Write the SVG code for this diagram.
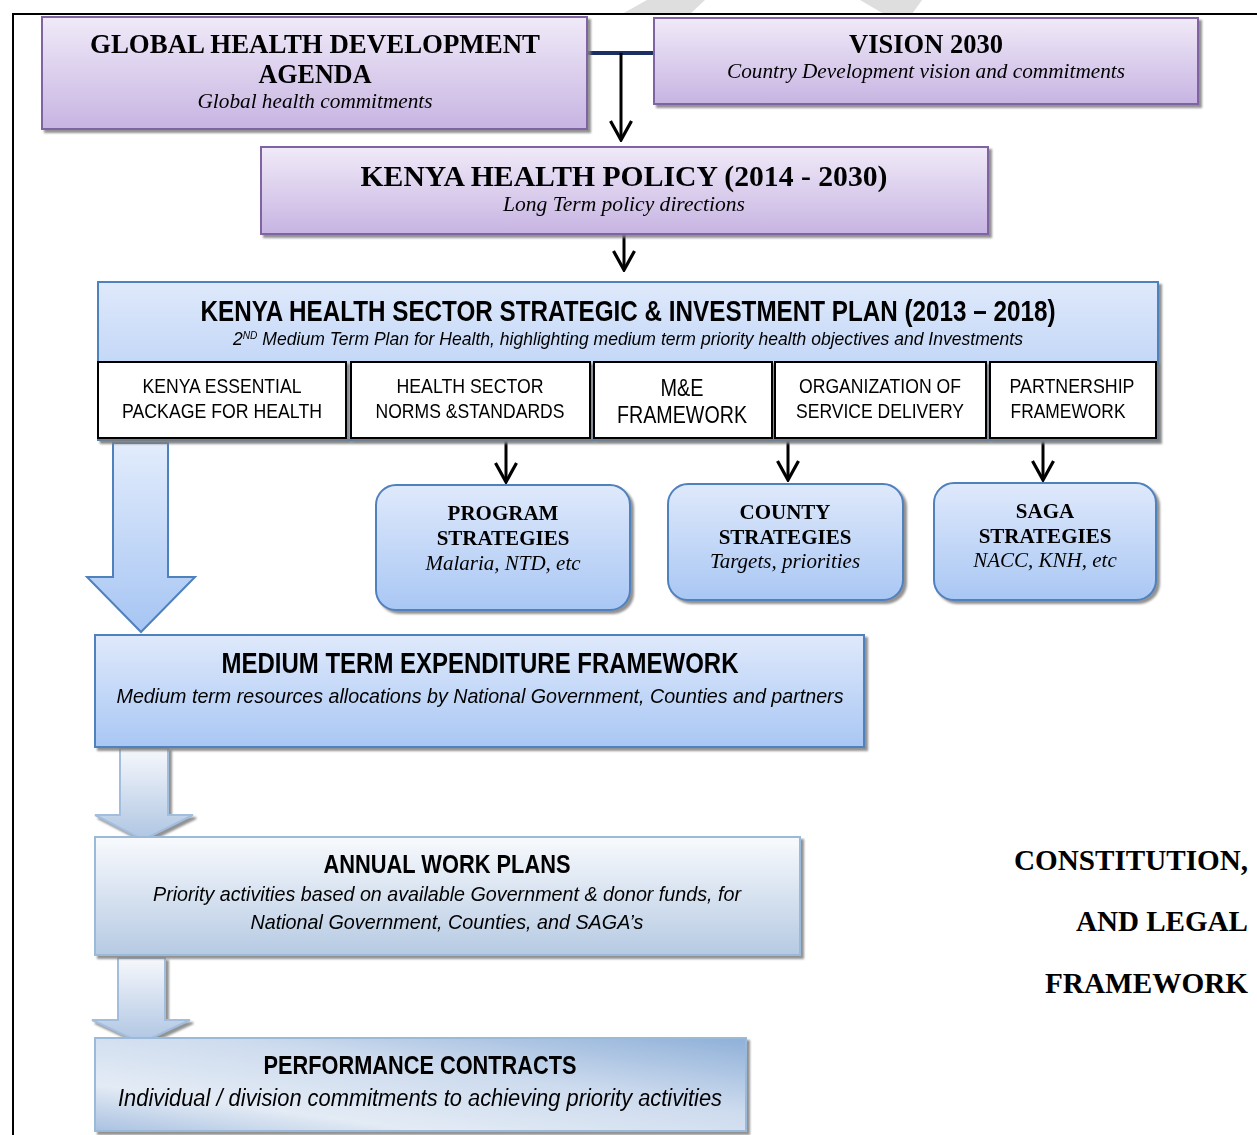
<svg xmlns="http://www.w3.org/2000/svg" width="1257" height="1135" viewBox="0 0 1257 1135">
<defs>
<linearGradient id="gPurple" x1="0" y1="0" x2="0" y2="1"><stop offset="0" stop-color="#f0eaf8"/><stop offset="1" stop-color="#c7b4e2"/></linearGradient>
<linearGradient id="gBlue" x1="0" y1="0" x2="0" y2="1"><stop offset="0" stop-color="#dfe9fb"/><stop offset="1" stop-color="#a9c7f4"/></linearGradient>
<linearGradient id="gBlueArrow" x1="0" y1="0" x2="0" y2="1"><stop offset="0" stop-color="#e2ecfc"/><stop offset="1" stop-color="#a6c5f3"/></linearGradient>
<linearGradient id="gPale" x1="0" y1="0" x2="0" y2="1"><stop offset="0" stop-color="#f8fafd"/><stop offset="1" stop-color="#b6cae3"/></linearGradient>
<linearGradient id="gPaleArrow" x1="0" y1="0" x2="0" y2="1"><stop offset="0" stop-color="#f6f8fc"/><stop offset="1" stop-color="#aec5e2"/></linearGradient>
<linearGradient id="gPC" x1="0" y1="1" x2="1" y2="0"><stop offset="0" stop-color="#a9c1e0"/><stop offset="0.25" stop-color="#e3ebf5"/><stop offset="0.6" stop-color="#cddbee"/><stop offset="1" stop-color="#8fb0d8"/></linearGradient>
<filter id="sh" x="-5%" y="-5%" width="115%" height="125%"><feDropShadow dx="3" dy="3" stdDeviation="1" flood-color="#7f7f7f" flood-opacity="0.85"/></filter>
<marker id="ah" viewBox="0 0 22 24" refX="20" refY="12" markerWidth="22" markerHeight="24" markerUnits="userSpaceOnUse" orient="auto"><path d="M1,1.5 L20,12 L1,22.5" fill="none" stroke="#000" stroke-width="3.2"/></marker>
<style>
.serifB{font-family:"Liberation Serif","Times New Roman",serif;font-weight:bold;fill:#000;text-anchor:middle}
.serifI{font-family:"Liberation Serif","Times New Roman",serif;font-style:italic;fill:#000;text-anchor:middle}
.narB{font-family:"Liberation Sans Narrow","Arial Narrow","Liberation Sans",sans-serif;font-weight:bold;fill:#000;text-anchor:middle}
.narI{font-family:"Liberation Sans Narrow","Arial Narrow","Liberation Sans",sans-serif;font-style:italic;fill:#000;text-anchor:middle}
.nar{font-family:"Liberation Sans Narrow","Arial Narrow","Liberation Sans",sans-serif;fill:#000;text-anchor:middle}
.end{text-anchor:end}
.purple{fill:url(#gPurple);stroke:#8064a2;stroke-width:2}
.blue{fill:url(#gBlue);stroke:#4f81bd;stroke-width:2}
.sub{fill:#fff;stroke:#000;stroke-width:2}
.pale{fill:url(#gPale);stroke:#9bbad9;stroke-width:2}
.conn{fill:none;stroke:#000;stroke-width:3}
</style>
</defs>
<rect width="1257" height="1135" fill="#fff"/>
<g id="watermark" fill="#dedede">
<polygon points="647,0 705,0 690,14 622,14"/>
<polygon points="860,0 922,0 912,14 884,14"/>
</g>
<path d="M13,1135 V14 H1257" fill="none" stroke="#000" stroke-width="2"/>

<g id="connectors">
<path d="M587,53 H654" fill="none" stroke="#1b2f63" stroke-width="4"/>
<path class="conn" d="M621,53 V140" marker-end="url(#ah)"/>
<path class="conn" d="M624,234 V270" marker-end="url(#ah)"/>
<path class="conn" d="M506,440 V482" marker-end="url(#ah)"/>
<path class="conn" d="M788,440 V480" marker-end="url(#ah)"/>
<path class="conn" d="M1043,440 V480" marker-end="url(#ah)"/>
<path id="bigArrow" d="M113,443 H168 V577 H195 L141,632 L87,577 H113 Z" fill="url(#gBlueArrow)" stroke="#4f81bd" stroke-width="2"/>
<path id="arrow2" d="M120,748 H168 V815 H193 L143,840 L95,815 H120 Z" fill="url(#gPaleArrow)" stroke="#a3bedd" stroke-width="2" filter="url(#sh)"/>
<path id="arrow3" d="M118,958 H165 V1020 H190 L141,1043 L92,1020 H118 Z" fill="url(#gPaleArrow)" stroke="#a3bedd" stroke-width="2" filter="url(#sh)"/>
</g>

<g id="global" filter="url(#sh)">
<rect class="purple" x="42" y="17" width="545" height="112"/>
<text class="serifB" x="315" y="53" font-size="27" textLength="450" lengthAdjust="spacingAndGlyphs">GLOBAL HEALTH DEVELOPMENT</text>
<text class="serifB" x="315" y="83" font-size="27" textLength="113" lengthAdjust="spacingAndGlyphs">AGENDA</text>
<text class="serifI" x="315" y="108" font-size="21" textLength="235" lengthAdjust="spacingAndGlyphs">Global health commitments</text>
</g>

<g id="vision" filter="url(#sh)">
<rect class="purple" x="654" y="18" width="544" height="86"/>
<text class="serifB" x="926" y="53" font-size="27" textLength="154" lengthAdjust="spacingAndGlyphs">VISION 2030</text>
<text class="serifI" x="926" y="78" font-size="21" textLength="398" lengthAdjust="spacingAndGlyphs">Country Development vision and commitments</text>
</g>

<g id="policy" filter="url(#sh)">
<rect class="purple" x="261" y="147" width="727" height="87"/>
<text class="serifB" x="624" y="186" font-size="30" textLength="527" lengthAdjust="spacingAndGlyphs">KENYA HEALTH POLICY (2014 - 2030)</text>
<text class="serifI" x="624" y="211" font-size="21" textLength="242" lengthAdjust="spacingAndGlyphs">Long Term policy directions</text>
</g>

<g id="khssp" filter="url(#sh)">
<rect class="blue" x="98" y="282" width="1060" height="158"/>
<text class="narB" x="628" y="321" font-size="29" textLength="855" lengthAdjust="spacingAndGlyphs">KENYA HEALTH SECTOR STRATEGIC &amp; INVESTMENT PLAN (2013 – 2018)</text>
<text class="narI" x="628" y="345" font-size="19" textLength="790" lengthAdjust="spacingAndGlyphs">2<tspan font-size="11" dy="-6">ND</tspan><tspan dy="6"> Medium Term Plan for Health, highlighting medium term priority health objectives and Investments</tspan></text>
</g>

<g id="kepch" filter="url(#sh)">
<rect class="sub" x="98" y="362" width="248" height="76"/>
<text class="nar" x="222" y="393" font-size="21" textLength="159" lengthAdjust="spacingAndGlyphs">KENYA ESSENTIAL</text>
<text class="nar" x="222" y="418" font-size="21" textLength="200" lengthAdjust="spacingAndGlyphs">PACKAGE FOR HEALTH</text>
</g>
<g id="norms" filter="url(#sh)">
<rect class="sub" x="351" y="362" width="239" height="76"/>
<text class="nar" x="470" y="393" font-size="21" textLength="147" lengthAdjust="spacingAndGlyphs">HEALTH SECTOR</text>
<text class="nar" x="470" y="418" font-size="21" textLength="189" lengthAdjust="spacingAndGlyphs">NORMS &amp;STANDARDS</text>
</g>
<g id="me" filter="url(#sh)">
<rect class="sub" x="594" y="362" width="178" height="76"/>
<text class="nar" x="682" y="396" font-size="24" textLength="43" lengthAdjust="spacingAndGlyphs">M&amp;E</text>
<text class="nar" x="682" y="423" font-size="24" textLength="130" lengthAdjust="spacingAndGlyphs">FRAMEWORK</text>
</g>
<g id="osd" filter="url(#sh)">
<rect class="sub" x="775" y="362" width="211" height="76"/>
<text class="nar" x="880" y="393" font-size="21" textLength="162" lengthAdjust="spacingAndGlyphs">ORGANIZATION OF</text>
<text class="nar" x="880" y="418" font-size="21" textLength="168" lengthAdjust="spacingAndGlyphs">SERVICE DELIVERY</text>
</g>
<g id="partnership" filter="url(#sh)">
<rect class="sub" x="990" y="362" width="166" height="76"/>
<text class="nar" x="1072" y="393" font-size="21" textLength="125" lengthAdjust="spacingAndGlyphs">PARTNERSHIP</text>
<text class="nar" x="1068" y="418" font-size="21" textLength="115" lengthAdjust="spacingAndGlyphs">FRAMEWORK</text>
</g>

<g id="program" filter="url(#sh)">
<rect class="blue" x="376" y="485" width="254" height="125" rx="20"/>
<text class="serifB" x="503" y="520" font-size="21">PROGRAM</text>
<text class="serifB" x="503" y="545" font-size="21">STRATEGIES</text>
<text class="serifI" x="503" y="570" font-size="21">Malaria, NTD, etc</text>
</g>
<g id="county" filter="url(#sh)">
<rect class="blue" x="668" y="484" width="235" height="116" rx="20"/>
<text class="serifB" x="785" y="519" font-size="21">COUNTY</text>
<text class="serifB" x="785" y="544" font-size="21">STRATEGIES</text>
<text class="serifI" x="785" y="568" font-size="21">Targets, priorities</text>
</g>
<g id="saga" filter="url(#sh)">
<rect class="blue" x="934" y="483" width="222" height="117" rx="20"/>
<text class="serifB" x="1045" y="518" font-size="21">SAGA</text>
<text class="serifB" x="1045" y="543" font-size="21">STRATEGIES</text>
<text class="serifI" x="1045" y="567" font-size="21">NACC, KNH, etc</text>
</g>

<g id="mtef" filter="url(#sh)">
<rect class="blue" x="95" y="635" width="769" height="112"/>
<text class="narB" x="480" y="673" font-size="29" textLength="517" lengthAdjust="spacingAndGlyphs">MEDIUM TERM EXPENDITURE FRAMEWORK</text>
<text class="narI" x="480" y="703" font-size="21" textLength="727" lengthAdjust="spacingAndGlyphs">Medium term resources allocations by National Government, Counties and partners</text>
</g>

<g id="awp" filter="url(#sh)">
<rect class="pale" x="95" y="837" width="705" height="118"/>
<text class="narB" x="447" y="873" font-size="26" textLength="247" lengthAdjust="spacingAndGlyphs">ANNUAL WORK PLANS</text>
<text class="narI" x="447" y="901" font-size="21" textLength="588" lengthAdjust="spacingAndGlyphs">Priority activities based on available Government &amp; donor funds, for</text>
<text class="narI" x="447" y="929" font-size="21" textLength="393" lengthAdjust="spacingAndGlyphs">National Government, Counties, and SAGA’s</text>
</g>

<g id="pc" filter="url(#sh)">
<rect x="95" y="1038" width="651" height="93" fill="url(#gPC)" stroke="#9bbad9" stroke-width="2"/>
<text class="narB" x="420" y="1074" font-size="26" textLength="313" lengthAdjust="spacingAndGlyphs">PERFORMANCE CONTRACTS</text>
<text class="narI" x="420" y="1106" font-size="23" textLength="604" lengthAdjust="spacingAndGlyphs">Individual / division commitments to achieving priority activities</text>
</g>

<g id="legal">
<text class="serifB end" x="1248" y="870" font-size="29" textLength="234" lengthAdjust="spacingAndGlyphs">CONSTITUTION,</text>
<text class="serifB end" x="1248" y="931" font-size="29" textLength="172" lengthAdjust="spacingAndGlyphs">AND LEGAL</text>
<text class="serifB end" x="1248" y="993" font-size="29" textLength="203" lengthAdjust="spacingAndGlyphs">FRAMEWORK</text>
</g>
</svg>
